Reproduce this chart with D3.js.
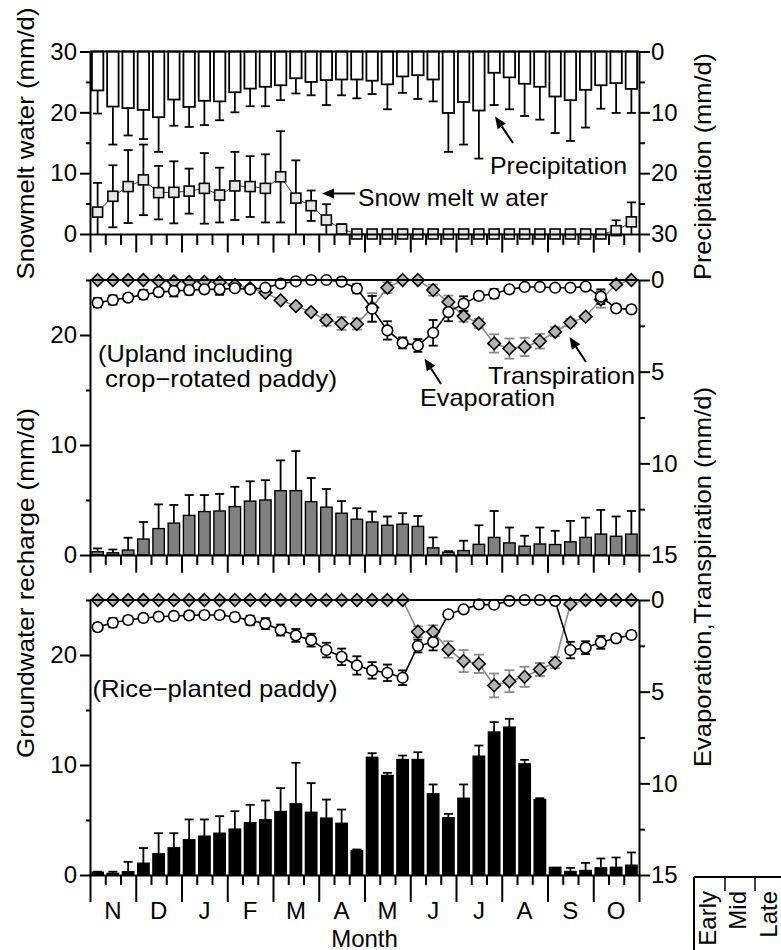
<!DOCTYPE html>
<html><head><meta charset="utf-8">
<script src="https://cdn.jsdelivr.net/npm/d3@7"></script>
<style>body{margin:0;background:#fff} svg text{font-family:"Liberation Sans",Arial,sans-serif;fill:#000}</style>
</head><body>
<svg id="c" width="781" height="950"></svg>
<script>
// ---------- data ----------
const months = ["N","D","J","F","M","A","M","J","J","A","S","O"];
const periods = ["Early","Mid","Late"];
const snowTicks = [0,10,20,30];
const snowMinor = [5,15,25];
const precTicks = [0,10,20,30];
const rechargeTicks = [0,10,20];
const rechargeMinor = [5,15,25];
const etTicks = [0,5,10,15];
const etMinor = [2.5,7.5,12.5];

const precip = [6.4,9.05,9.3,9.6,10.8,7.9,9.1,8.1,8.2,6.7,6.1,5.8,5.55,4.4,5.0,4.7,4.6,4.6,4.8,5.4,4.1,3.9,4.6,10.1,8.3,9.7,3.5,4.25,5.3,5.8,7.4,8.0,6.3,5.55,5.2,6.15];
const precipErr = [3.8,6.25,4.5,4.8,5.7,4.3,3.3,4.0,3.1,3.3,2.9,3.2,2.45,2.5,2.2,4.1,2.6,3.1,2.2,4.1,2.7,3.9,3.6,6.4,7.0,7.9,5.3,5.25,5.3,5.4,6.0,6.7,6.2,3.85,4.9,3.95];
const snowmelt = [3.6,6.2,7.8,8.9,6.8,6.85,7.05,7.5,6.4,7.9,7.8,7.5,9.4,5.9,4.65,2.3,0.8,0,0,0,0,0,0,0,0,0,0,0,0,0,0,0,0,0,0.55,2.0];
const snowmeltErr = [4.8,5.1,6.0,5.8,4.4,5.1,3.7,5.8,4.5,5.6,5.0,5.6,7.5,6.2,2.5,2.6,0.8,0,0,0,0,0,0,0,0,0,0,0,0,0,0,0,0,0,1.7,3.2];

const rechargeUpland = [0.3,0.2,0.45,1.45,2.4,2.9,3.6,3.95,4.0,4.4,4.9,5.0,5.85,5.85,4.85,4.35,3.8,3.25,3.0,2.7,2.8,2.6,0.65,0.25,0.4,0.97,1.6,1.1,0.8,1.0,0.95,1.2,1.6,1.9,1.7,1.9];
const rechargeUplandErr = [0.3,0.3,1.12,1.55,2.2,1.65,1.85,1.5,1.55,1.8,1.8,1.8,2.75,3.6,2.15,1.65,1.1,1.0,0.95,0.8,1.0,0.95,0.95,0.1,0.9,1.73,2.4,1.4,0.95,1.5,1.25,1.9,1.8,2.2,1.8,2.1];
const evapUpland = [1.24,1.09,0.96,0.8,0.66,0.6,0.55,0.51,0.51,0.45,0.51,0.42,0.2,0.07,0,0,0.09,0.47,1.57,2.75,3.43,3.57,2.88,1.75,1.29,0.87,0.75,0.51,0.38,0.38,0.42,0.42,0.36,0.91,1.55,1.6];
const evapUplandErr = [0.25,0.25,0.2,0.25,0.2,0.3,0.25,0.15,0.3,0.15,0.2,0.15,0.15,0.1,0.05,0.05,0.05,0.25,0.7,0.5,0.3,0.35,0.7,0.5,0.4,0.2,0.25,0.15,0.1,0.1,0.1,0.1,0.1,0.4,0.15,0.2];
const transpUpland = [0,0,0,0,0.05,0.08,0.1,0.1,0.12,0.27,0.45,0.69,1.11,1.42,1.75,2.19,2.37,2.4,1.5,0.42,0,0,0.55,1.2,1.97,2.37,3.46,3.74,3.65,3.34,2.82,2.33,2.0,1.06,0.24,0];
const transpUplandErr = [0,0,0,0,0,0,0,0,0,0,0.05,0.1,0.1,0.1,0.1,0.3,0.35,0.3,0.78,0.3,0,0,0.3,0.35,0.3,0.25,0.5,0.55,0.5,0.4,0.25,0.2,0.1,0.45,0,0];

const rechargePaddy = [0.25,0.15,0.3,1.07,1.93,2.47,3.2,3.53,3.8,4.17,4.75,5.02,5.77,6.47,5.7,5.17,4.7,2.22,10.7,9.05,10.5,10.5,7.38,5.2,6.98,10.8,13.0,13.44,10.1,6.86,0.7,0.32,0.41,0.65,0.7,0.89];
const rechargePaddyErr = [0.05,0.15,0.9,1.38,1.87,1.33,1.85,1.52,1.55,1.63,1.63,1.75,2.13,3.73,2.65,1.69,1.25,0.1,0.37,0.24,0.36,0.66,0.85,0.36,1.25,0.97,0.9,0.76,0.37,0.12,0,0.33,0.69,0.85,0.89,1.16];
const evapPaddy = [1.48,1.24,1.09,0.98,0.91,0.87,0.84,0.82,0.82,0.93,1.11,1.29,1.64,1.93,2.19,2.73,3.1,3.57,3.84,3.97,4.24,2.51,2.3,0.78,0.51,0.24,0.26,0.05,0,0,0.05,2.73,2.6,2.31,2.09,1.91];
const evapPaddyErr = [0.2,0.25,0.2,0.2,0.2,0.2,0.2,0.15,0.2,0.2,0.25,0.3,0.3,0.35,0.35,0.4,0.45,0.5,0.45,0.45,0.4,0.35,0.45,0.1,0.1,0.1,0.1,0.05,0,0,0.05,0.45,0.35,0.35,0.2,0.2];
const transpPaddy = [0,0,0,0,0,0,0,0,0,0,0,0,0,0,0,0,0,0,0,0,0,1.73,1.73,2.7,3.33,3.48,4.66,4.43,4.19,3.79,3.42,0.22,0,0,0,0];
const transpPaddyErr = [0,0,0,0,0,0,0,0,0,0,0,0,0,0,0,0,0,0,0,0,0,0.3,0.35,0.45,0.6,0.5,0.65,0.6,0.55,0.35,0.3,0,0,0,0,0];

// ---------- setup ----------
const svg = d3.select("#c");
const FS = 24;
const L = 90, R = 639;
const idx = d3.range(36);
const x = d3.scaleBand().domain(idx).range([L, R]).paddingInner(0.25).paddingOuter(0.125);
const cx = i => x(i) + x.bandwidth() / 2;
const xb = d3.scaleLinear().domain([0, 36]).range([L, R]);

const ySnow = d3.scaleLinear().domain([0, 30]).range([234, 51.5]);
const yPrec = d3.scaleLinear().domain([0, 30]).range([51.5, 234]);
const yG1 = d3.scaleLinear().domain([0, 25]).range([555, 280]);
const yE1 = d3.scaleLinear().domain([0, 15]).range([280, 555]);
const yG2 = d3.scaleLinear().domain([0, 25]).range([875, 600]);
const yE2 = d3.scaleLinear().domain([0, 15]).range([600, 875]);

function styleAxis(g) {
  g.attr("font-family", null).attr("font-size", null);
  g.selectAll("path,line").attr("stroke", "#000").attr("stroke-width", 2);
  g.selectAll("text").attr("font-size", FS).attr("fill", "#000");
}
function leftAxis(scale, major, minor) {
  const g = svg.append("g").attr("transform", `translate(${L},0)`);
  g.call(d3.axisLeft(scale).tickValues(major).tickSize(10).tickSizeOuter(0).tickPadding(3).tickFormat(d3.format("d")));
  styleAxis(g);
  const m = svg.append("g").attr("transform", `translate(${L},0)`);
  m.call(d3.axisLeft(scale).tickValues(minor).tickSize(4).tickSizeOuter(0).tickFormat(""));
  m.select(".domain").remove();
  styleAxis(m);
}
function rightAxis(scale, major, minor) {
  const g = svg.append("g").attr("transform", `translate(${R},0)`);
  g.call(d3.axisRight(scale).tickValues(major).tickSize(11).tickSizeOuter(0).tickPadding(1).tickFormat(d3.format("d")));
  styleAxis(g);
  const m = svg.append("g").attr("transform", `translate(${R},0)`);
  m.call(d3.axisRight(scale).tickValues(minor).tickSize(6).tickSizeOuter(0).tickFormat(""));
  m.select(".domain").remove();
  styleAxis(m);
}
function xAxis(y0, majorLen, minorLen) {
  const g = svg.append("g").attr("transform", `translate(0,${y0})`);
  g.call(d3.axisBottom(xb).tickValues(d3.range(0, 37, 3)).tickSize(majorLen).tickSizeOuter(0).tickFormat(""));
  styleAxis(g);
  const m = svg.append("g").attr("transform", `translate(0,${y0})`);
  m.call(d3.axisBottom(xb).tickValues(d3.range(0, 37).filter(d => d % 3)).tickSize(minorLen).tickSizeOuter(0).tickFormat(""));
  m.select(".domain").remove();
  styleAxis(m);
}
function topLine(y0) {
  svg.append("line").attr("x1", L).attr("x2", R).attr("y1", y0).attr("y2", y0)
    .attr("stroke", "#000").attr("stroke-width", 2);
}
function errBar(g, xc, y1, y2, color, w) {
  g.append("line").attr("x1", xc).attr("x2", xc).attr("y1", y1).attr("y2", y2)
    .attr("stroke", color).attr("stroke-width", w);
}
function cap(g, xc, yy, color, half, w) {
  g.append("line").attr("x1", xc - half).attr("x2", xc + half).attr("y1", yy).attr("y2", yy)
    .attr("stroke", color).attr("stroke-width", w);
}

// ---------- top panel ----------
const topG = svg.append("g");
topG.selectAll("rect.p").data(precip).join("rect")
  .attr("x", (d, i) => x(i)).attr("y", yPrec(0)).attr("width", x.bandwidth())
  .attr("height", d => yPrec(d) - yPrec(0))
  .attr("fill", "#fff").attr("stroke", "#000").attr("stroke-width", 1.8);
precip.forEach((v, i) => {
  errBar(topG, cx(i), yPrec(v), yPrec(v + precipErr[i]), "#000", 1.8);
  cap(topG, cx(i), yPrec(v + precipErr[i]), "#000", 4.5, 1.8);
});
topG.append("path").datum(snowmelt)
  .attr("d", d3.line().x((d, i) => cx(i)).y(d => ySnow(d)))
  .attr("fill", "none").attr("stroke", "#444").attr("stroke-width", 1);
snowmelt.forEach((v, i) => {
  const e = snowmeltErr[i];
  if (e > 0) {
    const lo = Math.max(0, v - e), hi = v + e;
    errBar(topG, cx(i), ySnow(lo), ySnow(hi), "#000", 1.8);
    cap(topG, cx(i), ySnow(hi), "#000", 4.5, 1.8);
    if (v - e > 0) cap(topG, cx(i), ySnow(lo), "#000", 4.5, 1.8);
  }
});
topG.selectAll("rect.s").data(snowmelt).join("rect")
  .attr("x", (d, i) => cx(i) - 5).attr("y", d => ySnow(d) - 5)
  .attr("width", 10).attr("height", 10)
  .attr("fill", "#e6e6e6").attr("stroke", "#000").attr("stroke-width", 1.6);

topLine(51.5);
leftAxis(ySnow, snowTicks, snowMinor);
rightAxis(yPrec, precTicks, [5, 15, 25]);
xAxis(234, 18.5, 11);

// ---------- ET panels ----------
function etPanel(yG, yE, recharge, rechargeErr, evap, evapErr, transp, transpErr, barFill, topY) {
  const g = svg.append("g");
  g.selectAll("rect").data(recharge).join("rect")
    .attr("x", (d, i) => x(i)).attr("y", d => yG(d)).attr("width", x.bandwidth())
    .attr("height", d => yG(0) - yG(d))
    .attr("fill", barFill).attr("stroke", "#000").attr("stroke-width", 1.4);
  recharge.forEach((v, i) => {
    const e = rechargeErr[i];
    if (e > 0) {
      errBar(g, cx(i), yG(v), yG(v + e), "#000", 1.8);
      cap(g, cx(i), yG(v + e), "#000", 4.5, 1.8);
    }
  });
  g.append("path").datum(transp)
    .attr("d", d3.line().x((d, i) => cx(i)).y(d => yE(d)))
    .attr("fill", "none").attr("stroke", "#8a8a8a").attr("stroke-width", 1.6);
  transp.forEach((v, i) => {
    const e = transpErr[i];
    if (e > 0) {
      errBar(g, cx(i), yE(Math.max(0, v - e)), yE(v + e), "#8a8a8a", 1.8);
      cap(g, cx(i), yE(v + e), "#8a8a8a", 5, 1.8);
      cap(g, cx(i), yE(Math.max(0, v - e)), "#8a8a8a", 5, 1.8);
    }
  });
  g.append("path").datum(evap)
    .attr("d", d3.line().x((d, i) => cx(i)).y(d => yE(d)))
    .attr("fill", "none").attr("stroke", "#000").attr("stroke-width", 1.6);
  evap.forEach((v, i) => {
    const e = evapErr[i];
    if (e > 0) {
      errBar(g, cx(i), yE(Math.max(0, v - e)), yE(v + e), "#000", 1.8);
      cap(g, cx(i), yE(v + e), "#000", 4.5, 1.8);
      cap(g, cx(i), yE(Math.max(0, v - e)), "#000", 4.5, 1.8);
    }
  });
  topLine(topY);
  g.selectAll("path.dm").data(transp).join("path").attr("class", "dm")
    .attr("d", (d, i) => { const px = cx(i), py = yE(d), h = 6.3; return `M${px},${py - h}L${px + h},${py}L${px},${py + h}L${px - h},${py}Z`; })
    .attr("fill", "#b4b4b4").attr("stroke", "#000").attr("stroke-width", 1.6);
  g.selectAll("circle").data(evap).join("circle")
    .attr("cx", (d, i) => cx(i)).attr("cy", d => yE(d)).attr("r", 5.3)
    .attr("fill", "#fff").attr("stroke", "#000").attr("stroke-width", 1.6);
}
etPanel(yG1, yE1, rechargeUpland, rechargeUplandErr, evapUpland, evapUplandErr, transpUpland, transpUplandErr, "#808080", 280);
leftAxis(yG1, rechargeTicks, rechargeMinor);
rightAxis(yE1, etTicks, etMinor);
xAxis(555, 17.7, 10);

etPanel(yG2, yE2, rechargePaddy, rechargePaddyErr, evapPaddy, evapPaddyErr, transpPaddy, transpPaddyErr, "#000", 600);
leftAxis(yG2, rechargeTicks, rechargeMinor);
rightAxis(yE2, etTicks, etMinor);
xAxis(875, 27, 10);

// month labels
svg.append("g").selectAll("text").data(months).join("text")
  .attr("x", (d, m) => xb(3 * m + 1.5)).attr("y", 918.5)
  .attr("text-anchor", "middle").attr("font-size", FS).text(d => d);
svg.append("text").attr("x", xb(18)).attr("y", 946.5).attr("text-anchor", "middle")
  .attr("font-size", FS).text("Month");

// ---------- titles ----------
function vtitle(xBase, yCenter, len, txt) {
  svg.append("text").attr("transform", `translate(${xBase},${yCenter}) rotate(-90)`)
    .attr("text-anchor", "middle").attr("font-size", FS)
    .attr("textLength", len).attr("lengthAdjust", "spacingAndGlyphs").text(txt);
}
vtitle(33.5, 143.5, 272, "Snowmelt water (mm/d)");
vtitle(33.5, 583, 350, "Groundwater recharge (mm/d)");
vtitle(711, 166.5, 227, "Precipitation (mm/d)");
vtitle(711, 577, 380, "Evaporation,Transpiration (mm/d)");

// ---------- annotations ----------
function label(x0, y0, len, txt) {
  svg.append("text").attr("x", x0).attr("y", y0).attr("font-size", FS)
    .attr("textLength", len).attr("lengthAdjust", "spacingAndGlyphs").text(txt);
}
function arrow(x1, y1, x2, y2) {
  const a = Math.atan2(y2 - y1, x2 - x1), hl = 12, hw = 5;
  const bx = x2 - hl * Math.cos(a), by = y2 - hl * Math.sin(a);
  svg.append("line").attr("x1", x1).attr("y1", y1).attr("x2", bx).attr("y2", by)
    .attr("stroke", "#000").attr("stroke-width", 2);
  svg.append("path").attr("d", `M${x2},${y2}L${bx + hw * Math.sin(a)},${by - hw * Math.cos(a)}L${bx - hw * Math.sin(a)},${by + hw * Math.cos(a)}Z`)
    .attr("fill", "#000");
}
label(490, 174, 137, "Precipitation");
arrow(513, 143, 495, 116.5);
label(358, 206, 190, "Snow melt w ater");
arrow(355, 193.5, 322, 193.5);
label(98, 362, 195, "(Upland including");
label(105, 387, 232, "crop\u2212rotated paddy)");
label(420, 406, 135, "Evaporation");
arrow(441, 384, 424.5, 358.5);
label(488, 384, 147, "Transpiration");
arrow(586, 362, 569.5, 337);
label(92.5, 697, 245, "(Rice\u2212planted paddy)");

// ---------- period legend box ----------
const lg = svg.append("g");
lg.append("line").attr("x1", 694).attr("x2", 781).attr("y1", 877).attr("y2", 877).attr("stroke", "#000").attr("stroke-width", 2);
lg.append("line").attr("x1", 694).attr("x2", 694).attr("y1", 877).attr("y2", 950).attr("stroke", "#000").attr("stroke-width", 2);
[725, 755].forEach(xx => lg.append("line").attr("x1", xx).attr("x2", xx).attr("y1", 877).attr("y2", 891).attr("stroke", "#000").attr("stroke-width", 1.5));
const pBase = [716, 746, 776.5];
lg.selectAll("text").data(periods).join("text")
  .attr("transform", (d, i) => `translate(${pBase[i]},891) rotate(-90)`)
  .attr("text-anchor", "end").attr("font-size", FS).text(d => d);
</script>
</body></html>
